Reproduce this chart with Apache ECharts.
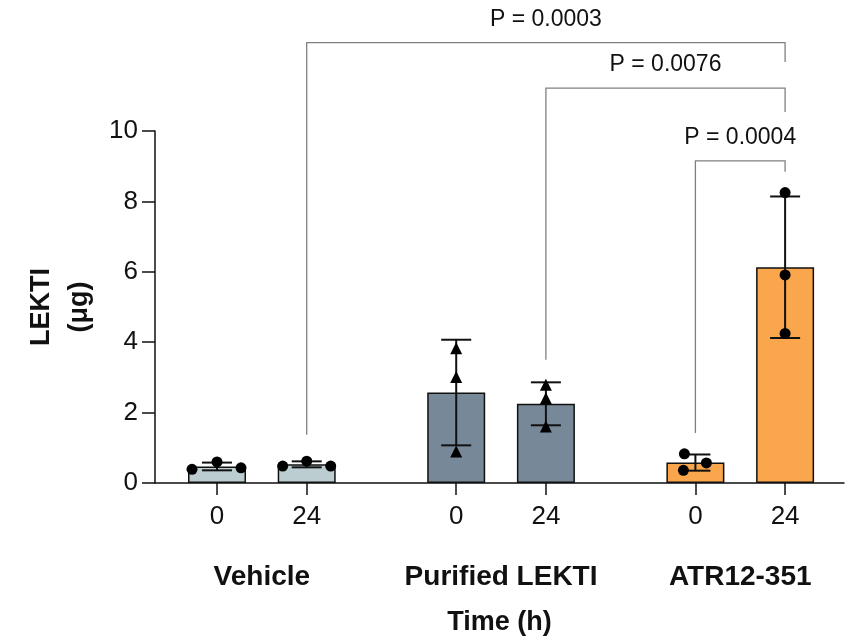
<!DOCTYPE html>
<html>
<head>
<meta charset="utf-8">
<script src="https://cdn.jsdelivr.net/npm/echarts@6/dist/echarts.min.js"></script>
<style>
html,body{margin:0;padding:0;background:#fff;}
#chart{width:851px;height:639px;}
</style>
</head>
<body>
<div id="chart"></div>
<script>
// ---------- data ----------
const groups = ['Vehicle', 'Purified LEKTI', 'ATR12-351'];
const timeLabels = ['0', '24'];
const barMeans = [0.47, 0.53, 2.57, 2.25, 0.58, 6.13];
const barSD = [0.11, 0.085, 1.50, 0.61, 0.23, 2.01];
const replicates = [
  [0.39, 0.60, 0.43],
  [0.48, 0.62, 0.48],
  [3.80, 2.98, 0.87],
  [2.76, 2.38, 1.58],
  [0.83, 0.57, 0.36],
  [8.25, 5.91, 4.25]
];
const yTicks = [0, 2, 4, 6, 8, 10];
const pLabels = ['P = 0.0003', 'P = 0.0076', 'P = 0.0004'];
const bracketFrom = [1, 3, 4];
const bracketTo = [5, 5, 5];
const bracketTop = [12.51, 11.22, 9.15];
const bracketLeftEnd = [1.37, 3.50, 1.42];
const bracketRightEnd = [11.96, 10.54, 8.84];

// ---------- layout / style ----------
const slotPos = [0, 3, 8, 11, 16, 19];
const groupPos = [1.5, 9.5, 17.5];
const jitter = [[-25, 0, 24], [-24, 0, 24], [0, 0, 0], [0, 0, 0], [-11, 11, -12], [0, 0, 0]];
const groupColors = ['#bccdd2', '#778899', '#f9a64c'];
const groupSymbols = ['circle', 'triangle', 'circle'];
const FONT = '"Liberation Sans", Arial, Helvetica, sans-serif';
const X_MIN = -2.074, X_MAX = 20.97;

const chart = echarts.init(document.getElementById('chart'), null, {renderer: 'canvas'});

const scatterData = [];
replicates.forEach((arr, i) => {
  const g = Math.floor(i / 2);
  arr.forEach((v, j) => {
    scatterData.push({
      value: [slotPos[i], v],
      symbol: groupSymbols[g],
      symbolSize: g === 1 ? 12 : 11,
      symbolOffset: [jitter[i][j], g === 1 ? -1 : 0]
    });
  });
});

const option = {
  animation: false,
  backgroundColor: '#fff',
  grid: {left: 155, right: 7, top: 131, bottom: 156, containLabel: false, outerBoundsMode: 'none'},
  xAxis: [{
    type: 'value', min: X_MIN, max: X_MAX,
    splitLine: {show: false},
    axisLine: {show: true, onZero: false, lineStyle: {color: '#111', width: 1.5}},
    axisTick: {show: true, length: 12, customValues: slotPos, lineStyle: {color: '#111', width: 1.5}},
    axisLabel: {
      customValues: slotPos, margin: 21,
      fontFamily: FONT, fontSize: 26, color: '#111',
      formatter: v => { const k = slotPos.indexOf(Math.round(v)); return k >= 0 ? timeLabels[k % 2] : ''; }
    },
    name: 'Time (h)', nameLocation: 'middle', nameGap: 126,
    nameTextStyle: {fontFamily: FONT, fontSize: 27, fontWeight: 'bold', color: '#111'}
  }, {
    type: 'value', min: X_MIN, max: X_MAX, position: 'bottom',
    splitLine: {show: false}, axisLine: {show: false, onZero: false}, axisTick: {show: false},
    axisLabel: {
      customValues: groupPos, margin: 80,
      fontFamily: FONT, fontSize: 28, fontWeight: 'bold', color: '#111',
      formatter: v => { const k = groupPos.indexOf(v); return k >= 0 ? groups[k] : ''; }
    }
  }],
  yAxis: {
    type: 'value', min: 0, max: 10, interval: 2,
    splitLine: {show: false},
    axisLine: {show: true, onZero: false, lineStyle: {color: '#111', width: 1.5}},
    axisTick: {show: true, length: 13, lineStyle: {color: '#111', width: 1.5}},
    axisLabel: {customValues: yTicks, margin: 17, fontFamily: FONT, fontSize: 26, color: '#111'},
    name: 'LEKTI\n(μg)', nameLocation: 'middle', nameRotate: 90, nameGap: 46,
    nameTextStyle: {fontFamily: FONT, fontSize: 27, fontWeight: 'bold', color: '#111', lineHeight: 38, align: 'center'}
  },
  series: [
    {
      type: 'bar', xAxisIndex: 0, barWidth: 58, z: 2, silent: true,
      data: barMeans.map((m, i) => ({value: [slotPos[i], m], itemStyle: {color: groupColors[Math.floor(i / 2)]}})),
      itemStyle: {borderColor: '#111', borderWidth: 1.5}
    },
    {
      type: 'custom', xAxisIndex: 0, z: 3, silent: true,
      data: barMeans.map((m, i) => [slotPos[i], m, barSD[i]]),
      renderItem: (params, api) => {
        const x = api.value(0), m = api.value(1), s = api.value(2);
        const t = api.coord([x, m + s]), b = api.coord([x, m - s]);
        const st = {stroke: '#111', lineWidth: 2};
        return {type: 'group', children: [
          {type: 'line', shape: {x1: t[0], y1: t[1], x2: b[0], y2: b[1]}, style: st},
          {type: 'line', shape: {x1: t[0] - 15, y1: t[1], x2: t[0] + 15, y2: t[1]}, style: st},
          {type: 'line', shape: {x1: b[0] - 15, y1: b[1], x2: b[0] + 15, y2: b[1]}, style: st}
        ]};
      }
    },
    {
      type: 'scatter', xAxisIndex: 0, z: 4, silent: true,
      itemStyle: {color: '#000', opacity: 1},
      data: scatterData
    },
    {
      type: 'custom', xAxisIndex: 0, z: 5, silent: true, clip: false,
      data: pLabels.map((p, k) => [slotPos[bracketFrom[k]], slotPos[bracketTo[k]], bracketTop[k], bracketLeftEnd[k], bracketRightEnd[k], k]),
      renderItem: (params, api) => {
        const x1 = api.value(0), x2 = api.value(1), top = api.value(2), le = api.value(3), re = api.value(4);
        const k = api.value(5);
        const a = api.coord([x1, le]), b = api.coord([x1, top]), c = api.coord([x2, top]), d = api.coord([x2, re]);
        return {type: 'group', children: [
          {type: 'polyline', shape: {points: [a, b, c, d]}, style: {stroke: '#808080', lineWidth: 1.3, fill: null}},
          {type: 'text', x: (b[0] + c[0]) / 2, y: b[1] - 23,
           style: {text: pLabels[k], fontFamily: FONT, fontSize: 23, fill: '#111', align: 'center', verticalAlign: 'middle'}}
        ]};
      }
    }
  ]
};
chart.setOption(option);
</script>
</body>
</html>
